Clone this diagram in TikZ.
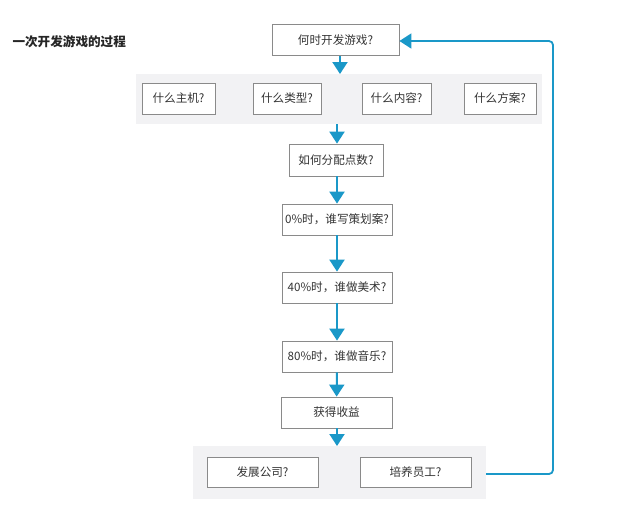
\documentclass[tikz,border=0pt]{standalone}
\usepackage{fontspec}
\setmainfont{Noto Sans CJK SC}
\usetikzlibrary{arrows.meta}
\definecolor{flow}{HTML}{1A98C8}
\definecolor{band}{HTML}{F2F2F4}
\definecolor{boxline}{HTML}{8A8A8A}
\begin{document}
\begin{tikzpicture}[x=1pt,y=-1pt,
  qbox/.style={draw=boxline,line width=0.8pt,fill=white,minimum height=31pt,inner sep=0pt,font=\fontsize{11.6}{13}\selectfont,text=black!80},
  bandbox/.style={fill=band,draw=none},
  flowarrow/.style={draw=flow,line width=2pt,-{Triangle[width=15pt,length=12pt]}},
  backline/.style={draw=flow,line width=1.8pt,rounded corners=4pt,-{Triangle[width=15pt,length=12pt]}}]
\useasboundingbox[fill=white] (0,0) rectangle (640,507);
\node[anchor=west,font=\fontsize{12.6}{15}\selectfont\bfseries,text=black!85] (title) at (9,42) {一次开发游戏的过程};
% bands
\path[bandbox] (136,74) rectangle (542,124);
\coordinate (band1top) at (340,74);
\coordinate (band1bot) at (337,124);
\path[bandbox] (193,446) rectangle (486,499);
\coordinate (band2top) at (337,446);
\coordinate (band2right) at (486,474);
% boxes
\node[qbox,minimum width=127pt] (b1) at (335.5,40) {何时开发游戏?};
\node[qbox,minimum width=73pt] (h1) at (178.5,98.5) {什么主机?};
\node[qbox,minimum width=68pt] (h2) at (287,98.5) {什么类型?};
\node[qbox,minimum width=69pt] (h3) at (396.5,98.5) {什么内容?};
\node[qbox,minimum width=72pt] (h4) at (500,98.5) {什么方案?};
\node[qbox,minimum width=94pt,minimum height=32pt] (b2) at (336,160) {如何分配点数?};
\node[qbox,minimum width=110pt] (b3) at (337,219.5) {0\%时，谁写策划案?};
\node[qbox,minimum width=110pt] (b4) at (337,287.5) {40\%时，谁做美术?};
\node[qbox,minimum width=110pt] (b5) at (337,356.5) {80\%时，谁做音乐?};
\node[qbox,minimum width=111pt] (b6) at (336.5,412.5) {获得收益};
\node[qbox,minimum width=111pt,minimum height=30pt] (c1) at (262.5,472) {发展公司?};
\node[qbox,minimum width=111pt,minimum height=30pt] (c2) at (415.5,472) {培养员工?};
% arrows
\draw[flowarrow] (b1.south -| band1top) -- (band1top);
\draw[flowarrow] (band1bot) -- (b2.north -| band1bot);
\draw[flowarrow] (b2.south -| b3.north) -- (b3.north);
\draw[flowarrow] (b3) -- (b4);
\draw[flowarrow] (b4) -- (b5);
\draw[flowarrow] (b5) -- (b6);
\draw[flowarrow] (b6.south -| band2top) -- (band2top);
\draw[backline] (band2right) -- (553,474) -- (553,41) -- (b1.east |- 0,41);
\end{tikzpicture}
\end{document}
